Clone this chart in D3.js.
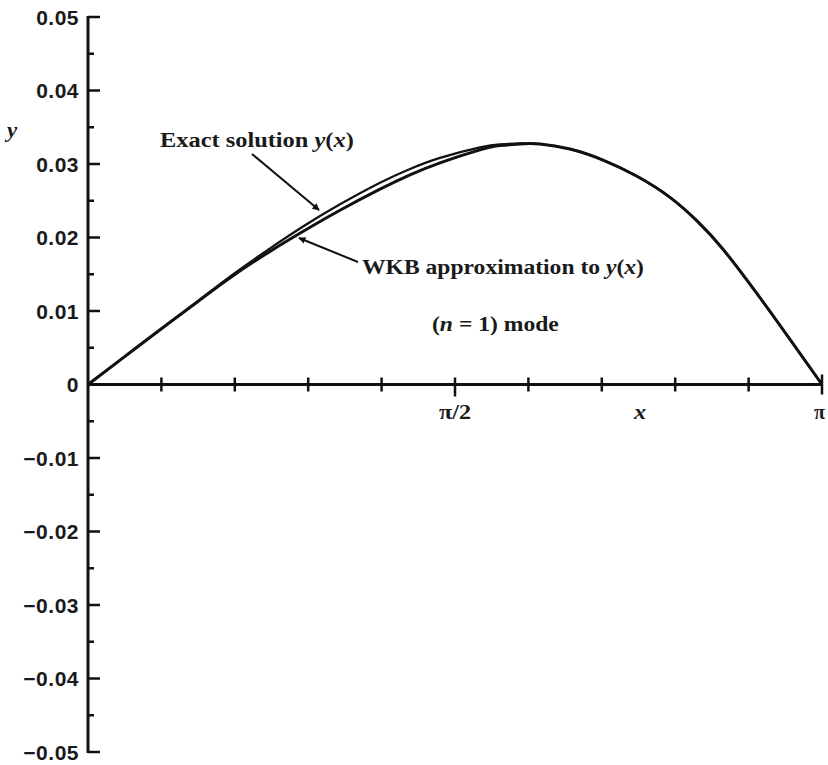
<!DOCTYPE html>
<html>
<head>
<meta charset="utf-8">
<script src="https://cdn.jsdelivr.net/npm/d3@7"></script>
<style>
  body { margin: 0; background: #fff; }
  svg { display: block; }
  .num { font-family: 'Liberation Sans', Arial, sans-serif; font-weight: bold; font-size: 21px; letter-spacing: 0.5px; fill: #1a1a1a; }
  .lbl { font-family: 'Liberation Serif', 'Times New Roman', serif; font-weight: bold; font-size: 20px; fill: #1a1a1a; }
</style>
</head>
<body>
<svg id="chart" width="828" height="765"></svg>
<script>
// x in radians, y values
const xValues = [0, 0.1541, 0.3082, 0.4665, 0.6206, 0.7790, 0.9288, 1.0786, 1.2498, 1.3782, 1.5066,
  1.6778, 1.7634, 1.8490, 1.9346, 2.0630, 2.2043, 2.3498, 2.4910, 2.6066, 2.7179, 2.8634, 3.0046, Math.PI];
const exactY = [0, 0.00373, 0.00744, 0.01127, 0.01499, 0.01852, 0.02166, 0.02452, 0.02746, 0.02933, 0.03084,
  0.03226, 0.03267, 0.03280, 0.03272, 0.03203, 0.03054, 0.02833, 0.02546, 0.02226, 0.01841, 0.01236, 0.00614, 0];
const wkbY = [0, 0.00373, 0.00744, 0.01120, 0.01479, 0.01811, 0.02098, 0.02370, 0.02657, 0.02852, 0.03016,
  0.03192, 0.03250, 0.03273, 0.03272, 0.03203, 0.03054, 0.02833, 0.02546, 0.02226, 0.01841, 0.01236, 0.00614, 0];

const yTicks = [0.05, 0.04, 0.03, 0.02, 0.01, 0, -0.01, -0.02, -0.03, -0.04, -0.05];
const yTickLabels = ['0.05', '0.04', '0.03', '0.02', '0.01', '0', '\u22120.01', '\u22120.02', '\u22120.03', '\u22120.04', '\u22120.05'];
const xTickSteps = [1, 2, 3, 4, 5, 6, 7, 8, 9, 10]; // multiples of pi/10

const svg = d3.select('#chart');
const x = d3.scaleLinear().domain([0, Math.PI]).range([88, 822]);
const y = d3.scaleLinear().domain([-0.05, 0.05]).range([752, 17]);

svg.append('defs').append('marker')
  .attr('id', 'arrow')
  .attr('viewBox', '0 0 10 10')
  .attr('refX', 9).attr('refY', 5)
  .attr('markerWidth', 10).attr('markerHeight', 7)
  .attr('markerUnits', 'userSpaceOnUse')
  .attr('orient', 'auto')
  .append('path')
  .attr('d', 'M0,0 L10,5 L0,10 Z')
  .attr('fill', '#111');

// y axis with major ticks every 0.01 and minor every 0.005, all pointing right
const yAxis = svg.append('g').attr('stroke', '#111');
yAxis.append('line')
  .attr('x1', x(0)).attr('x2', x(0))
  .attr('y1', y(0.05) - 1).attr('y2', y(-0.05) + 1)
  .attr('stroke-width', 3);
yAxis.selectAll('.major').data(yTicks).enter().append('line')
  .attr('x1', x(0)).attr('x2', x(0) + 12)
  .attr('y1', d => y(d)).attr('y2', d => y(d))
  .attr('stroke-width', 2.5);
yAxis.selectAll('.minor').data(d3.range(-0.045, 0.05, 0.01)).enter().append('line')
  .attr('x1', x(0)).attr('x2', x(0) + 6)
  .attr('y1', d => y(d)).attr('y2', d => y(d))
  .attr('stroke-width', 2.5);

svg.selectAll('.ylabel').data(yTicks).enter().append('text')
  .attr('class', 'num')
  .attr('x', 79)
  .attr('y', d => y(d) + 7.5)
  .attr('text-anchor', 'end')
  .text((d, i) => yTickLabels[i]);

// x axis along y = 0
const xAxis = svg.append('g').attr('stroke', '#111');
xAxis.append('line')
  .attr('x1', x(0)).attr('x2', x(Math.PI))
  .attr('y1', y(0)).attr('y2', y(0))
  .attr('stroke-width', 3);
xAxis.selectAll('.xtick').data(xTickSteps).enter().append('line')
  .attr('x1', k => x(k * Math.PI / 10)).attr('x2', k => x(k * Math.PI / 10))
  .attr('y1', k => y(0) - (k === 10 ? 10 : 7))
  .attr('y2', k => y(0) + (k === 5 ? 12 : k === 10 ? 10 : 7))
  .attr('stroke-width', 2.5);

// the printed labels are set in a wide face, so stretch them horizontally
function label(px, py, sx) {
  return svg.append('g')
    .attr('transform', `translate(${px},${py}) scale(${sx},1)`)
    .append('text')
    .attr('class', 'lbl');
}

label(x(Math.PI / 2), 419, 1.15)
  .attr('text-anchor', 'middle')
  .style('font-size', '21px')
  .text('\u03c0/2');
label(640, 419, 1.15)
  .attr('text-anchor', 'middle')
  .style('font-style', 'italic')
  .style('font-size', '21px')
  .text('x');
label(814, 419, 1)
  .style('font-size', '20px')
  .text('\u03c0');
label(7, 137, 1.15)
  .style('font-style', 'italic')
  .text('y');

// curves
const line = d3.line()
  .x((d, i) => x(xValues[i]))
  .y(d => y(d))
  .curve(d3.curveNatural);

svg.append('path')
  .datum(wkbY)
  .attr('d', line)
  .attr('fill', 'none')
  .attr('stroke', '#111')
  .attr('stroke-width', 3);
svg.append('path')
  .datum(exactY)
  .attr('d', line)
  .attr('fill', 'none')
  .attr('stroke', '#111')
  .attr('stroke-width', 2.2);

// annotations
const exactText = label(160, 147, 1.22);
exactText.append('tspan').text('Exact solution ');
exactText.append('tspan').style('font-style', 'italic').text('y');
exactText.append('tspan').text('(');
exactText.append('tspan').style('font-style', 'italic').text('x');
exactText.append('tspan').text(')');

svg.append('line')
  .attr('x1', 252).attr('y1', 154)
  .attr('x2', 319).attr('y2', 210)
  .attr('stroke', '#111').attr('stroke-width', 2)
  .attr('marker-end', 'url(#arrow)');

const wkbText = label(362, 274, 1.18);
wkbText.append('tspan').text('WKB approximation to ');
wkbText.append('tspan').style('font-style', 'italic').text('y');
wkbText.append('tspan').text('(');
wkbText.append('tspan').style('font-style', 'italic').text('x');
wkbText.append('tspan').text(')');

svg.append('line')
  .attr('x1', 358).attr('y1', 262)
  .attr('x2', 299).attr('y2', 238)
  .attr('stroke', '#111').attr('stroke-width', 2)
  .attr('marker-end', 'url(#arrow)');

const modeText = label(432, 331, 1.18);
modeText.append('tspan').text('(');
modeText.append('tspan').style('font-style', 'italic').text('n');
modeText.append('tspan').text(' = 1) mode');
</script>
</body>
</html>
